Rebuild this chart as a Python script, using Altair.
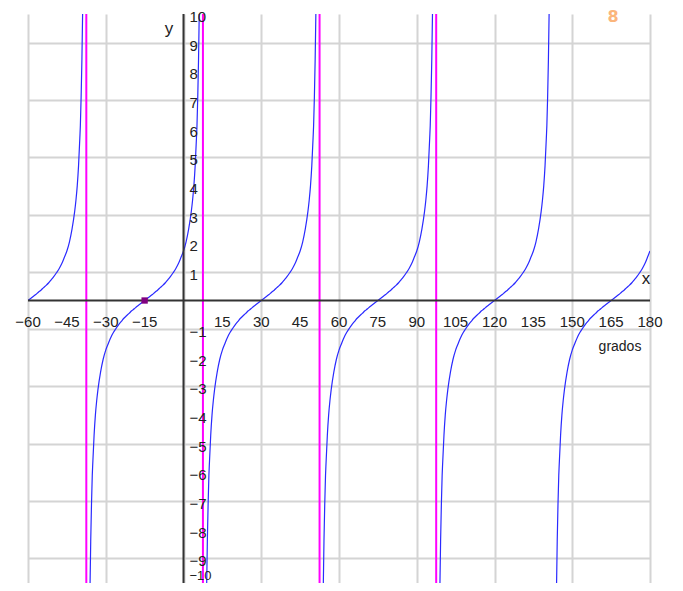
import altair as alt
import pandas as pd

# ---- data ----
branch_zeros = [-60, -15, 30, 75, 120, 165]          # zeros of each branch (degrees)
offsets = [-21.07, -20.8, -20.5, -20.2, -20, -19.5, -19, -18.5, -18, -17, -16, -15, -14, -13, -12,
           -11, -10, -9, -8, -7, -6, -5, -4, -3, -2, -1, 0,
           1, 2, 3, 4, 5, 6, 7, 8, 9, 10, 11, 12, 13, 14, 15, 16, 17, 18, 18.5, 19, 19.5, 20, 20.2,
           20.5, 20.8, 21.07]
branch_y = [-10, -8.4, -7.1, -6.1, -5.67, -4.7, -4.0, -3.5, -3.1, -2.5, -2.05, -1.73, -1.5, -1.28, -1.11,
            -0.97, -0.84, -0.73, -0.62, -0.53, -0.45, -0.36, -0.29, -0.21, -0.14, -0.07, 0,
            0.07, 0.14, 0.21, 0.29, 0.36, 0.45, 0.53, 0.62, 0.73, 0.84, 0.97, 1.11, 1.28, 1.5, 1.73,
            2.05, 2.5, 3.1, 3.5, 4.0, 4.7, 5.67, 6.1, 7.1, 8.4, 10]
asymptotes = [-37.5, 7.5, 52.5, 97.5]
point_x = [-15]
point_y = [0]
x_ticks = [-60, -45, -30, -15, 15, 30, 45, 60, 75, 90, 105, 120, 135, 150, 165, 180]
y_ticks = [-9, -8, -7, -6, -5, -4, -3, -2, -1, 1, 2, 3, 4, 5, 6, 7, 8, 9, 10]
y_bottom_tick = [-10]
x_grid = list(range(-60, 181, 15))
y_grid = list(range(-10, 11, 1))

rows = []
for b, z in enumerate(branch_zeros):
    for o, v in zip(offsets, branch_y):
        xv = z + o
        if -60 <= xv <= 180:
            rows.append({"x": xv, "y": v, "branch": b})
curve_df = pd.DataFrame(rows)

FONT = "Liberation Sans"
W, H = 622, 569
Y_MIN = -9.86   # visible bottom of the reference view (the -10 line sits just below the frame)

xs = alt.Scale(domain=[-60, 180], nice=False, zero=False)
ys = alt.Scale(domain=[Y_MIN, 10], nice=False, zero=False)

grid = alt.Chart(pd.DataFrame({"x": [0], "y": [0]})).mark_point(opacity=0).encode(
    x=alt.X("x:Q", scale=xs, axis=alt.Axis(values=x_grid, grid=True, labels=False, ticks=False,
                                           domain=False, title=None, gridColor="#d4d4d4", gridWidth=2)),
    y=alt.Y("y:Q", scale=ys, axis=alt.Axis(values=y_grid, grid=True, labels=False, ticks=False,
                                           domain=False, title=None, gridColor="#d4d4d4", gridWidth=2)),
)

xaxis_line = alt.Chart(pd.DataFrame({"x": [-60], "x2": [180], "y": [0]})).mark_rule(
    color="#333333", strokeWidth=2).encode(x=alt.X("x:Q", scale=xs), x2="x2:Q", y=alt.Y("y:Q", scale=ys))
yaxis_line = alt.Chart(pd.DataFrame({"x": [0], "y": [Y_MIN], "y2": [10]})).mark_rule(
    color="#333333", strokeWidth=2).encode(x=alt.X("x:Q", scale=xs), y=alt.Y("y:Q", scale=ys), y2="y2:Q")

asym = alt.Chart(pd.DataFrame({"x": asymptotes})).mark_rule(color="#ff00ff", strokeWidth=2).encode(
    x=alt.X("x:Q", scale=xs))

curve = alt.Chart(curve_df).mark_line(color="#2a2aff", strokeWidth=1.2, interpolate="monotone",
                                      clip=True).encode(
    x=alt.X("x:Q", scale=xs), y=alt.Y("y:Q", scale=ys), detail="branch:N")

pt = alt.Chart(pd.DataFrame({"x": point_x, "y": point_y})).mark_square(
    color="#800080", size=40, opacity=1).encode(x=alt.X("x:Q", scale=xs), y=alt.Y("y:Q", scale=ys))

xlab_df = pd.DataFrame({"x": x_ticks, "y": [0] * len(x_ticks),
                        "t": [str(v).replace("-", "\u2212") for v in x_ticks]})
xlabels = alt.Chart(xlab_df).mark_text(font=FONT, fontSize=15, color="#222222", align="center",
                                       baseline="middle", dy=21).encode(
    x=alt.X("x:Q", scale=xs), y=alt.Y("y:Q", scale=ys), text="t:N")

ylab_df = pd.DataFrame({"x": [0] * len(y_ticks), "y": y_ticks,
                        "t": [str(v).replace("-", "\u2212") for v in y_ticks]})
ylabels = alt.Chart(ylab_df).mark_text(font=FONT, fontSize=15, color="#222222", align="left",
                                       baseline="middle", dx=6, dy=3).encode(
    x=alt.X("x:Q", scale=xs), y=alt.Y("y:Q", scale=ys), text="t:N")

ybot_df = pd.DataFrame({"x": [0], "y": y_bottom_tick,
                        "t": [str(v).replace("-", "\u2212") for v in y_bottom_tick]})
ybot = alt.Chart(ybot_df).mark_text(font=FONT, fontSize=13, color="#222222", align="left",
                                    baseline="bottom", dx=6, dy=0).encode(
    x=alt.X("x:Q", scale=xs), y=alt.value(H), text="t:N")

ylab_name = alt.Chart(pd.DataFrame({"t": ["y"]})).mark_text(
    font=FONT, fontSize=17, color="#222222", align="center", baseline="middle").encode(
    x=alt.value(141), y=alt.value(15), text="t:N")
xlab_name = alt.Chart(pd.DataFrame({"t": ["x"]})).mark_text(
    font=FONT, fontSize=17, color="#222222", align="center", baseline="middle").encode(
    x=alt.value(618), y=alt.value(265), text="t:N")
grados = alt.Chart(pd.DataFrame({"t": ["grados"]})).mark_text(
    font=FONT, fontSize=14, color="#222222", align="center", baseline="middle").encode(
    x=alt.value(592), y=alt.value(333), text="t:N")
eight = alt.Chart(pd.DataFrame({"t": ["8"]})).mark_text(
    font="DejaVu Sans", fontSize=16, fontWeight="bold", color="#fbb57c", align="center",
    baseline="top").encode(x=alt.value(585), y=alt.value(-5), text="t:N")

chart = alt.layer(grid, asym, curve, xaxis_line, yaxis_line, pt, xlabels, ylabels, ybot,
                  ylab_name, xlab_name, grados, eight).properties(
    width=W, height=H,
    autosize=alt.AutoSizeParams(type="none"),
    padding={"left": 20, "top": 6, "right": 25, "bottom": 0},
).configure_view(strokeWidth=0)

chart.save("out.html", embed_options={"renderer": "svg", "actions": False})
